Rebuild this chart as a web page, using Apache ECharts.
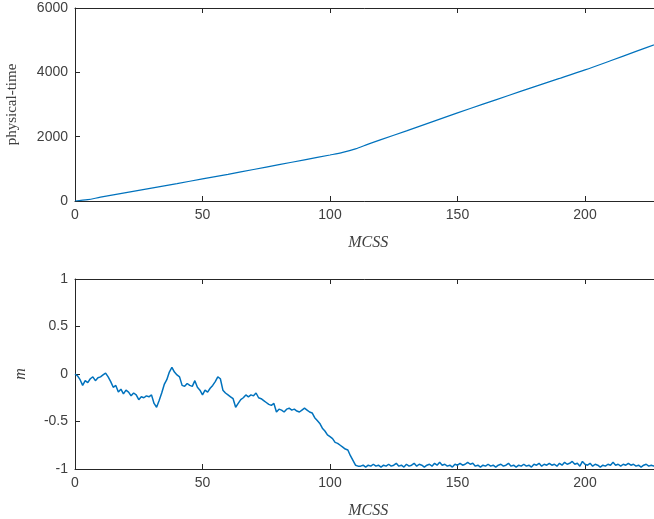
<!DOCTYPE html>
<html>
<head>
<meta charset="utf-8">
<script src="https://cdn.jsdelivr.net/npm/echarts@6/dist/echarts.min.js"></script>
<style>
  html, body { margin: 0; padding: 0; background: #fff; }
  #chart { width: 654px; height: 519px; }
</style>
</head>
<body>
<div id="chart"></div>
<script>
// Monte Carlo run: accumulated physical time and magnetisation per MC step
const timeSteps = [0, 5, 10, 20, 30, 40, 50, 60, 70, 80, 90, 100, 105, 110, 115, 120,
  130, 140, 150, 160, 170, 180, 190, 200, 210, 220, 230];
const physicalTime = [0, 40, 120, 260, 400, 540, 690, 830, 980, 1130, 1280, 1430, 1510, 1620,
  1770, 1910, 2180, 2460, 2740, 3010, 3280, 3550, 3810, 4075, 4360, 4650, 4940];

// magnetisation m, one value per MCSS starting at 0
const magnetisation = [
  0.00, -0.02, -0.06, -0.12, -0.07, -0.09, -0.05, -0.03, -0.07, -0.04,
  -0.03, -0.01, 0.01, -0.03, -0.08, -0.14, -0.12, -0.19, -0.16, -0.21,
  -0.17, -0.19, -0.23, -0.20, -0.22, -0.27, -0.24, -0.25, -0.23, -0.24,
  -0.22, -0.31, -0.35, -0.28, -0.20, -0.11, -0.06, 0.02, 0.07, 0.02,
  -0.01, -0.03, -0.12, -0.13, -0.10, -0.12, -0.13, -0.07, -0.14, -0.17,
  -0.22, -0.17, -0.19, -0.15, -0.12, -0.08, -0.03, -0.05, -0.17, -0.20,
  -0.22, -0.24, -0.26, -0.35, -0.31, -0.27, -0.25, -0.22, -0.24, -0.22,
  -0.23, -0.20, -0.25, -0.26, -0.28, -0.30, -0.32, -0.33, -0.31, -0.40,
  -0.37, -0.38, -0.40, -0.37, -0.36, -0.38, -0.37, -0.39, -0.40, -0.38,
  -0.36, -0.38, -0.40, -0.41, -0.46, -0.49, -0.52, -0.57, -0.60, -0.64,
  -0.66, -0.68, -0.72, -0.73, -0.75, -0.77, -0.79, -0.80, -0.86, -0.91,
  -0.96, -0.97, -0.97, -0.96, -0.98, -0.96, -0.97, -0.95, -0.97, -0.96,
  -0.98, -0.96, -0.97, -0.95, -0.97, -0.96, -0.94, -0.97, -0.96, -0.98,
  -0.95, -0.97, -0.96, -0.94, -0.97, -0.95, -0.96, -0.98, -0.96, -0.95,
  -0.97, -0.94, -0.96, -0.93, -0.96, -0.95, -0.97, -0.96, -0.98, -0.95,
  -0.96, -0.94, -0.96, -0.95, -0.93, -0.95, -0.94, -0.97, -0.96, -0.98,
  -0.96, -0.97, -0.95, -0.97, -0.96, -0.98, -0.96, -0.95, -0.97, -0.96,
  -0.94, -0.97, -0.96, -0.98, -0.96, -0.97, -0.95, -0.97, -0.96, -0.98,
  -0.95, -0.96, -0.94, -0.97, -0.95, -0.96, -0.94, -0.96, -0.95, -0.97,
  -0.94, -0.96, -0.93, -0.95, -0.94, -0.92, -0.95, -0.94, -0.97, -0.92,
  -0.95, -0.96, -0.94, -0.97, -0.95, -0.96, -0.98, -0.96, -0.97, -0.95,
  -0.96, -0.93, -0.96, -0.95, -0.97, -0.95, -0.96, -0.94, -0.96, -0.95,
  -0.97, -0.96, -0.98, -0.96, -0.95, -0.97, -0.96, -0.97, -0.95, -0.96,
  -0.97
];

const xTicks = [0, 50, 100, 150, 200];
const timeTicks = [0, 2000, 4000, 6000];
const mTicks = [-1, -0.5, 0, 0.5, 1];

const lineColor = '#0072BD';
const inkColor = '#262626';
const sansFont = '"Liberation Sans", Arial, sans-serif';
const serifFont = '"Liberation Serif", "Times New Roman", serif';

const timeData = timeSteps.map((x, i) => [x, physicalTime[i]]);
const mData = magnetisation.map((v, i) => [i, v]);

const X_MAX = 230;

function bottomXAxis(gridIndex) {
  return {
    type: 'value', gridIndex, position: 'bottom',
    min: 0, max: X_MAX, interval: 50,
    name: 'MCSS', nameLocation: 'middle', nameGap: 34,
    nameTextStyle: { fontFamily: serifFont, fontStyle: 'italic', fontSize: 16, color: '#404040' },
    axisLine: { show: true, onZero: false, lineStyle: { color: inkColor, width: 1 } },
    axisTick: { show: true, inside: true, length: 5, lineStyle: { color: inkColor } },
    axisLabel: {
      margin: 7, fontFamily: sansFont, fontSize: 14, color: '#404040',
      showMaxLabel: false,
      formatter: v => (xTicks.indexOf(v) >= 0 ? String(v) : '')
    },
    splitLine: { show: false }
  };
}
function topXAxis(gridIndex) {
  return {
    type: 'value', gridIndex, position: 'top',
    min: 0, max: X_MAX, interval: 50,
    axisLine: { show: true, onZero: false, lineStyle: { color: inkColor, width: 1 } },
    axisTick: { show: true, inside: true, length: 5, lineStyle: { color: inkColor } },
    axisLabel: { show: false },
    splitLine: { show: false }
  };
}
function leftYAxis(gridIndex, min, max, interval, name, nameGap, nameStyle, fmt) {
  return {
    type: 'value', gridIndex, position: 'left',
    min, max, interval,
    name, nameLocation: 'middle', nameGap, nameRotate: 90,
    nameTextStyle: nameStyle,
    axisLine: { show: true, onZero: false, lineStyle: { color: inkColor, width: 1 } },
    axisTick: { show: true, inside: true, length: 5, lineStyle: { color: inkColor } },
    axisLabel: { margin: 7, fontFamily: sansFont, fontSize: 14, color: '#404040', formatter: fmt },
    splitLine: { show: false }
  };
}

const chart = echarts.init(document.getElementById('chart'), null, { renderer: 'canvas' });
chart.setOption({
  animation: false,
  backgroundColor: '#ffffff',
  grid: [
    { left: 75, top: 8, width: 586.5, height: 193, outerBoundsMode: 'none', containLabel: false },
    { left: 75, top: 279, width: 586.5, height: 190, outerBoundsMode: 'none', containLabel: false }
  ],
  xAxis: [bottomXAxis(0), topXAxis(0), bottomXAxis(1), topXAxis(1)],
  yAxis: [
    leftYAxis(0, 0, 6000, 2000, 'physical-time', 55,
      { fontFamily: serifFont, fontSize: 15, color: '#404040' },
      v => (timeTicks.indexOf(v) >= 0 ? String(v) : '')),
    leftYAxis(1, -1, 1, 0.5, 'm', 46,
      { fontFamily: serifFont, fontStyle: 'italic', fontSize: 16, color: '#404040' },
      v => (mTicks.indexOf(v) >= 0 ? String(v) : ''))
  ],
  series: [
    {
      type: 'line', xAxisIndex: 0, yAxisIndex: 0, data: timeData,
      showSymbol: false, smooth: 0.3,
      lineStyle: { color: lineColor, width: 1.2 }
    },
    {
      type: 'line', xAxisIndex: 2, yAxisIndex: 1, data: mData,
      showSymbol: false,
      lineStyle: { color: lineColor, width: 1.5 }
    }
  ]
});
</script>
</body>
</html>
